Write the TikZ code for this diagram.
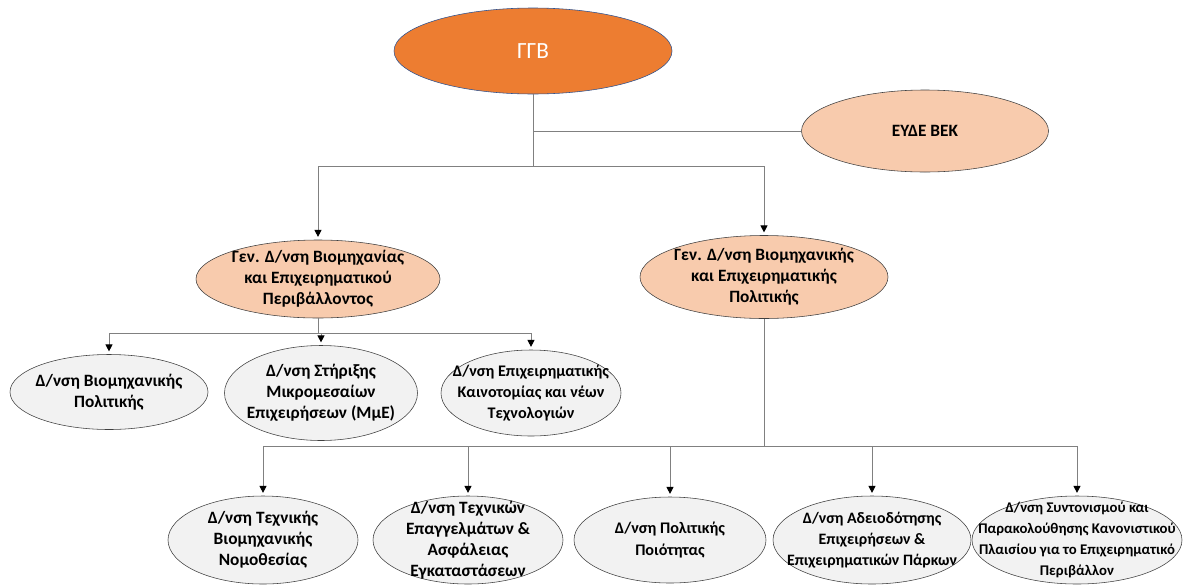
\documentclass[tikz,border=0pt]{standalone}
\usepackage{fontspec}
\setmainfont{Carlito}
\usepackage{xcolor}
\definecolor{HeadOrange} {RGB}{237, 125,  49}
\definecolor{HeadBorder} {RGB}{ 47,  82, 143}
\definecolor{SoftOrange} {RGB}{248, 203, 173}
\definecolor{SoftGray}   {RGB}{242, 242, 242}
\definecolor{LineGray}   {RGB}{128, 128, 128}
\definecolor{EdgeGray}   {RGB}{ 64,  64,  64}
\usepackage{tikz}
\usetikzlibrary{
  shapes.geometric,
  arrows.meta,
  positioning
}

\begin{document}
\begin{tikzpicture}[
  font=\fontsize{12.3}{15}\selectfont\bfseries,
  chief/.style={
    ellipse, draw=HeadBorder, fill=HeadOrange,
    inner sep=-1cm, text=white,
    font=\fontsize{16.5}{18}\selectfont
  },
  gendir/.style={
    ellipse, draw=EdgeGray, fill=SoftOrange,
    inner sep=-1cm, align=center
  },
  dir/.style={
    ellipse, draw=EdgeGray, fill=SoftGray,
    inner sep=-1cm, align=center
  },
  fitsize/.style={
    font=\fontsize{#1}{15}\selectfont\bfseries},
  link/.style={
    draw=LineGray, line width=0.7pt},
  arrow/.style={
    link,
    -{Triangle[length=5pt, width=5pt, color=black]},
    shorten >=2pt}
]
\useasboundingbox (0,0) rectangle (29.65,-14.6);

\node[chief, minimum width=6.95cm, minimum height=2.15cm]
  (ggb) at (13.325,-1.275) {ΓΓΒ};
\node[gendir, minimum width=6.175cm, minimum height=2.05cm]
  (eyde) at (23.125,-3.275) {ΕΥΔΕ ΒΕΚ};

\node[gendir, minimum width=6.1cm, minimum height=1.95cm]
  (genind) at (7.95,-6.975)
  {Γεν. Δ/νση Βιομηχανίας\\και Επιχειρηματικού\\Περιβάλλοντος};
\node[gendir, minimum width=6.2cm, minimum height=2.075cm]
  (genpol) at (19.1,-6.925)
  {Γεν. Δ/νση Βιομηχανικής\\και Επιχειρηματικής\\Πολιτικής};

\node[dir, minimum width=4.95cm, minimum height=1.875cm]
  (d1) at (2.725,-9.8)
  {Δ/νση Βιομηχανικής\\Πολιτικής};
\node[dir, minimum width=4.825cm, minimum height=2.375cm]
  (d2) at (8.025,-9.825)
  {Δ/νση Στήριξης\\Μικρομεσαίων\\Επιχειρήσεων (ΜμΕ)};
\node[dir, fitsize=11.5, minimum width=4.5cm, minimum height=2.15cm]
  (d3) at (13.275,-9.825)
  {Δ/νση Επιχειρηματικής\\Καινοτομίας και νέων\\Τεχνολογιών};

\node[dir, minimum width=4.75cm, minimum height=2.2cm]
  (t1) at (6.575,-13.5)
  {Δ/νση Τεχνικής\\Βιομηχανικής\\Νομοθεσίας};
\node[dir, minimum width=4.75cm, minimum height=2.2cm]
  (t2) at (11.7,-13.5)
  {Δ/νση Τεχνικών\\Επαγγελμάτων \&\\Ασφάλειας\\Εγκαταστάσεων};
\node[dir, fitsize=11.5, minimum width=4.8cm, minimum height=2.15cm]
  (t3) at (16.75,-13.5)
  {Δ/νση Πολιτικής\\Ποιότητας};
\node[dir, fitsize=11.3, minimum width=4.95cm, minimum height=2.2cm]
  (t4) at (21.8,-13.5)
  {Δ/νση Αδειοδότησης\\Επιχειρήσεων \&\\Επιχειρηματικών Πάρκων};
\node[dir, fitsize=10.5, minimum width=5.25cm, minimum height=2.2cm]
  (t5) at (26.925,-13.5)
  {Δ/νση Συντονισμού και\\Παρακολούθησης Κανονιστικού\\Πλαισίου για το Επιχειρηματικό\\Περιβάλλον};

\draw[link] (eyde.west) -- (eyde.west -| ggb.south);
\draw[arrow] (ggb.south) -- ++(0,-1.8) -| (genind.north);
\draw[arrow] (ggb.south) -- ++(0,-1.8) -| (genpol.north);

\foreach \d in {d1,d2,d3}
  \draw[arrow] (genind.south) -- ++(0,-0.375) -| (\d.north);
\foreach \t in {t1,t2,t3,t4,t5}
  \draw[arrow] (genpol.south) -- ++(0,-3.19) -| (\t.north);
\end{tikzpicture}
\end{document}
